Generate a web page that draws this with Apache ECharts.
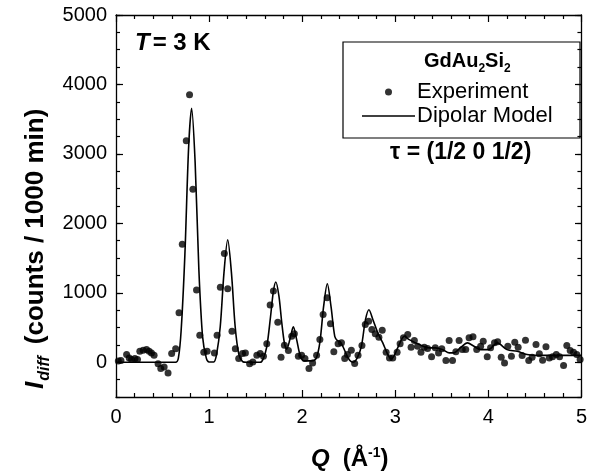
<!DOCTYPE html>
<html>
<head>
<meta charset="utf-8">
<script src="https://cdn.jsdelivr.net/npm/echarts@6/dist/echarts.min.js"></script>
<style>
  html, body { margin: 0; padding: 0; background: #ffffff; }
  #chart { width: 590px; height: 475px; }
</style>
</head>
<body>
<div id="chart"></div>
<script>
// Magnetic diffuse scattering of GdAu2Si2 at T = 3 K: measured points and dipolar-model curve.

// Measured intensity
const expQ = [0.025,0.053,0.114,0.142,0.167,0.203,0.231,0.256,0.292,0.328,0.356,0.381,0.409,0.452,0.481,0.517,0.559,0.598,0.641,
  0.677,0.712,0.755,0.79,0.826,0.865,0.9,0.943,0.979,1.057,1.086,1.121,1.164,1.2,1.246,1.282,1.318,1.359,1.39,1.435,1.47,
  1.513,1.549,1.584,1.62,1.656,1.691,1.738,1.773,1.809,1.852,1.888,1.916,1.959,1.994,2.03,2.073,2.112,2.155,2.19,2.225,
  2.268,2.304,2.34,2.386,2.422,2.457,2.486,2.528,2.564,2.6,2.642,2.678,2.714,2.749,2.785,2.824,2.86,2.902,2.938,2.973,
  3.02,3.052,3.088,3.134,3.17,3.205,3.24,3.276,3.312,3.347,3.39,3.43,3.465,3.5,3.544,3.579,3.615,3.651,3.686,3.72,
  3.757,3.793,3.835,3.875,3.917,3.945,3.988,4.024,4.066,4.1,4.138,4.174,4.209,4.248,4.284,4.32,4.363,4.399,4.434,4.47,
  4.512,4.548,4.583,4.619,4.655,4.69,4.73,4.765,4.808,4.843,4.879,4.915,4.95,4.986];
const expI = [17,24,111,63,39,53,39,159,173,183,159,135,101,-23,-91,-67,-153,125,193,
  713,1700,3190,3850,2490,1040,390,145,160,135,390,1080,1565,1060,448,193,53,125,135,-23,5,
  101,125,87,265,824,1026,578,72,245,169,375,410,86,101,53,-91,-9,101,328,689,
  930,554,150,265,280,53,111,173,-19,101,241,544,592,472,410,361,462,144,63,63,
  144,265,352,400,217,313,231,144,217,198,78,208,135,193,24,313,24,150,313,183,
  183,352,367,183,231,303,78,208,280,294,72,-9,231,86,289,217,96,318,24,72,
  255,121,29,222,63,78,111,78,-48,241,169,144,111,39];

// Dipolar model curve
const modelQ = [0,0.64,0.67,0.70,0.74,0.78,0.812,0.85,0.89,0.93,0.97,1.0,1.05,1.08,1.12,1.16,1.2,1.24,1.28,1.32,1.36,1.40,
  1.55,1.58,1.62,1.66,1.69,1.717,1.75,1.78,1.81,1.834,1.87,1.905,1.94,1.98,2.02,2.10,2.15,2.19,2.23,2.27,2.31,2.35,2.38,
  2.404,2.44,2.475,2.51,2.546,2.59,2.636,2.68,2.717,2.76,2.813,2.866,2.92,2.955,2.99,3.026,3.098,3.15,3.26,3.365,3.43,
  3.51,3.58,3.63,3.70,3.775,3.846,3.917,4.0,4.096,4.2,4.31,4.415,4.5,5.0];
const modelI = [0,0,60,460,1550,3090,3655,2880,1340,370,60,5,5,110,515,1290,1763,1290,515,110,10,0,
  0,45,225,655,1015,1155,955,580,270,190,340,509,330,90,20,20,55,285,800,1131,800,374,310,
  302,220,111,30,0,60,230,613,757,613,422,279,111,49,100,207,374,326,254,207,207,
  182,135,135,210,279,230,182,182,279,182,158,111,100,100];

// Axis ranges and tick labels
const xTickLabels = [0, 1, 2, 3, 4, 5];
const yTickLabels = [0, 1000, 2000, 3000, 4000, 5000];
const Y_MIN = -500, Y_MAX = 5000;

const FAMILY = '"Liberation Sans", Arial, sans-serif';
const ctx = document.createElement('canvas').getContext('2d');
function textWidth(str, font) { ctx.font = font; return ctx.measureText(str).width; }

// Lay out text runs left to right on a common baseline; dy shifts a run (sub/superscript)
function runs(pieces, x0, baseline) {
  const out = [];
  let x = x0;
  pieces.forEach(p => {
    const font = `${p.style || ''} bold ${p.size}px ${FAMILY}`;
    out.push({
      type: 'text', x: x, y: baseline + (p.dy || 0) - 0.35 * p.size,
      style: { text: p.text, font: font, fill: '#000', align: 'left', verticalAlign: 'middle' }
    });
    x += textWidth(p.text, font) + (p.gap || 0);
  });
  return out;
}

const xy = expQ.map((q, i) => [q, expI[i]]);
const model = modelQ.map((q, i) => [q, modelI[i]]);

// Plot box in pixels
const H = 475, TOP = 15, BOTTOM = 78;
const plotH = H - TOP - BOTTOM;
// A twin grid spanning only 0..Y_MAX carries the labelled ticks, so they line up with the main scale
const zeroBottom = BOTTOM + plotH * (0 - Y_MIN) / (Y_MAX - Y_MIN);

const axisBlack = { show: true, onZero: false, lineStyle: { color: '#000', width: 1.3 } };
const tickStyle = { color: '#000', width: 1.2 };
const labelFont = { fontFamily: FAMILY, fontSize: 20, color: '#000' };

const yTitle = runs([
  { text: 'I', size: 26, style: 'italic', gap: 1 },
  { text: 'diff', size: 16, style: 'italic', dy: 5, gap: 12 },
  { text: '(counts / 1000 min)', size: 26 }
], 0, 0);

function frameX(position, withLabels) {
  return {
    type: 'value', gridIndex: 0, min: 0, max: 5, interval: 1, position: position,
    axisLine: axisBlack,
    axisTick: { inside: true, length: 7, lineStyle: tickStyle },
    minorTick: { show: true, splitNumber: 5, length: 4, lineStyle: tickStyle },
    axisLabel: withLabels
      ? Object.assign({ margin: 10, formatter: v => xTickLabels.includes(v) ? String(v) : '' }, labelFont)
      : { show: false },
    splitLine: { show: false }
  };
}

function minorY(position) {
  return {
    type: 'value', gridIndex: 0, min: Y_MIN, max: Y_MAX, interval: 250, position: position,
    axisLine: axisBlack,
    axisTick: { inside: true, length: 4, lineStyle: tickStyle },
    axisLabel: { show: false },
    splitLine: { show: false }
  };
}

function majorY(position, withLabels) {
  return {
    type: 'value', gridIndex: 1, min: 0, max: Y_MAX, interval: 1000, position: position,
    axisLine: { show: false },
    axisTick: { inside: true, length: 7, lineStyle: tickStyle },
    axisLabel: withLabels
      ? Object.assign({ margin: 9, formatter: v => yTickLabels.includes(v) ? String(v) : '' }, labelFont)
      : { show: false },
    splitLine: { show: false }
  };
}

const option = {
  animation: false,
  backgroundColor: '#ffffff',
  grid: [
    { left: 116, right: 8, top: TOP, bottom: BOTTOM },
    { left: 116, right: 8, top: TOP, bottom: zeroBottom }
  ],
  xAxis: [
    frameX('bottom', true),
    frameX('top', false),
    { type: 'value', gridIndex: 1, min: 0, max: 5, show: false }
  ],
  yAxis: [minorY('left'), minorY('right'), majorY('left', true), majorY('right', false)],
  legend: {
    orient: 'vertical', left: 362, top: 81, itemGap: 2, padding: 0,
    itemWidth: 53, itemHeight: 7,
    textStyle: { fontFamily: FAMILY, fontSize: 22, color: '#000', padding: [0, 0, 0, -3] },
    data: [
      { name: 'Experiment', icon: 'circle' },
      { name: 'Dipolar Model', icon: 'path://M0,0H53V1.6H0Z' }
    ]
  },
  series: [
    {
      name: 'Experiment', type: 'scatter', xAxisIndex: 0, yAxisIndex: 0, data: xy,
      symbol: 'circle', symbolSize: 7,
      itemStyle: { color: '#000' }, z: 3
    },
    {
      name: 'Dipolar Model', type: 'line', xAxisIndex: 0, yAxisIndex: 0, data: model,
      showSymbol: false, symbol: 'none', smooth: 0.3,
      lineStyle: { color: '#000', width: 1.6 }, itemStyle: { color: '#000' }, z: 4
    }
  ],
  graphic: [
    { type: 'rect', shape: { x: 343, y: 42, width: 237, height: 96 },
      style: { fill: 'none', stroke: '#000', lineWidth: 1.2 } },
    ...runs([
      { text: 'GdAu', size: 20 },
      { text: '2', size: 12, dy: 5 },
      { text: 'Si', size: 20 },
      { text: '2', size: 12, dy: 5 }
    ], 424, 68),
    ...runs([
      { text: 'T', size: 24, style: 'italic', gap: 3 },
      { text: '= 3 K', size: 24 }
    ], 135, 52),
    ...runs([{ text: 'τ = (1/2 0 1/2)', size: 23 }], 390, 161),
    ...runs([
      { text: 'Q', size: 24, style: 'italic', gap: 13 },
      { text: '(Å', size: 24 },
      { text: '-1', size: 14, dy: -10 },
      { text: ')', size: 24 }
    ], 311, 468),
    { type: 'group', x: 45, y: 389, rotation: Math.PI / 2, children: yTitle }
  ]
};

const chart = echarts.init(document.getElementById('chart'), null, { renderer: 'canvas' });
chart.setOption(option);
</script>
</body>
</html>
